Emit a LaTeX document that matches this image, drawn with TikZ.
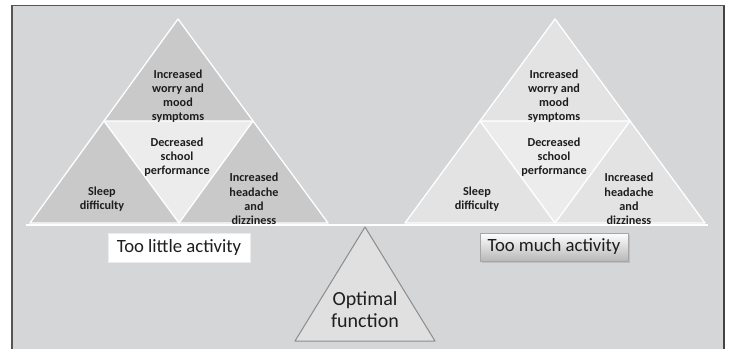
\documentclass[tikz,border=0pt]{standalone}
\usepackage{fontspec}
\setmainfont{Carlito}
\usetikzlibrary{calc}
\definecolor{bg}{HTML}{D5D6D8}
\definecolor{darkpiece}{HTML}{C9C9CA}
\definecolor{lightcenter}{HTML}{ECECEC}
\definecolor{lightpiece}{HTML}{E3E3E4}
\definecolor{txt}{HTML}{1E1E1E}
\definecolor{frame}{HTML}{555555}
\tikzset{
  piece/.style={draw=white, line width=1.3pt, line join=round},
  tritext/.style={align=center, text=txt, font=\bfseries\fontsize{12.2}{14.2}\selectfont, inner sep=0pt},
  labelbox/.style={draw=white!85!gray, line width=0.4pt, minimum width=142pt, minimum height=29pt, inner sep=0pt, text=txt, font=\fontsize{18.7}{21}\selectfont},
}
\begin{document}
\begin{tikzpicture}[x=1pt,y=-1pt]
\useasboundingbox (0,0) rectangle (732,349);
% frame
\fill[bg] (12,5.5) rectangle (724,349);
\draw[frame, line width=1.2pt] (12,349) -- (12,5.5) -- (724,5.5) -- (724,349);
\draw[frame, line width=2.4pt] (12,6) -- (12,349);
\draw[frame!80!black, line width=2pt] (724,6) -- (724,349);

% ---------- left triangle ----------
\coordinate (LA) at (178,19);
\coordinate (LL) at (30,223);
\coordinate (LR) at (328,223);
\coordinate (LML) at ($(LA)!0.5!(LL)$);
\coordinate (LMR) at ($(LA)!0.5!(LR)$);
\coordinate (LMB) at ($(LL)!0.5!(LR)$);
\fill[darkpiece] (LA) -- (LL) -- (LR) -- cycle;
\fill[lightcenter] (LML) -- (LMR) -- (LMB) -- cycle;
\draw[piece] (LA) -- (LL) -- (LR) -- cycle;
\draw[piece] (LML) -- (LMR) -- (LMB) -- cycle;

% ---------- right triangle ----------
\coordinate (RA) at (555,19);
\coordinate (RL) at (405,223);
\coordinate (RR) at (705,223);
\coordinate (RML) at ($(RA)!0.5!(RL)$);
\coordinate (RMR) at ($(RA)!0.5!(RR)$);
\coordinate (RMB) at ($(RL)!0.5!(RR)$);
\fill[lightpiece] (RA) -- (RL) -- (RR) -- cycle;
\fill[lightcenter] (RML) -- (RMR) -- (RMB) -- cycle;
\draw[piece] (RA) -- (RL) -- (RR) -- cycle;
\draw[piece] (RML) -- (RMR) -- (RMB) -- cycle;

% beam
\coordinate (BL) at (26,224.5);
\coordinate (BR) at (708,224.5);
\draw[white, line width=2pt] (BL) -- (BR);

% texts left
\node[tritext] (lworry) at (178,96) {Increased\\worry and\\mood\\symptoms};
\node[tritext] (lschool) at (177,157) {Decreased\\school\\performance};
\node[tritext] (lsleep) at (102,199) {Sleep\\difficulty};
\node[tritext] (lhead) at (254,199) {Increased\\headache\\and\\dizziness};

% texts right
\node[tritext] (rworry) at (554,96) {Increased\\worry and\\mood\\symptoms};
\node[tritext] (rschool) at (554,157) {Decreased\\school\\performance};
\node[tritext] (rsleep) at (477,199) {Sleep\\difficulty};
\node[tritext] (rhead) at (629,199) {Increased\\headache\\and\\dizziness};

% label boxes
\node[labelbox, fill=white] (little) at (179,247.5) {Too little activity};
\fill[black!25] (482,235) rectangle (630,263);
\node[labelbox, draw=gray!70, minimum width=148pt, minimum height=28pt, top color=white, bottom color=black!28] (much) at (554,247) {Too much activity};

% optimal fulcrum
\coordinate (OA) at (365,227);
\coordinate (OL) at (295,341);
\coordinate (OR) at (435,341);
\draw[fill=lightcenter!95!black, draw=black!45, line width=1pt, line join=round] (OA) -- (OL) -- (OR) -- cycle;
\node[align=center, text=txt, font=\fontsize{20}{22}\selectfont, inner sep=0pt] (opt) at (365,310) {Optimal\\function};
\end{tikzpicture}
\end{document}
